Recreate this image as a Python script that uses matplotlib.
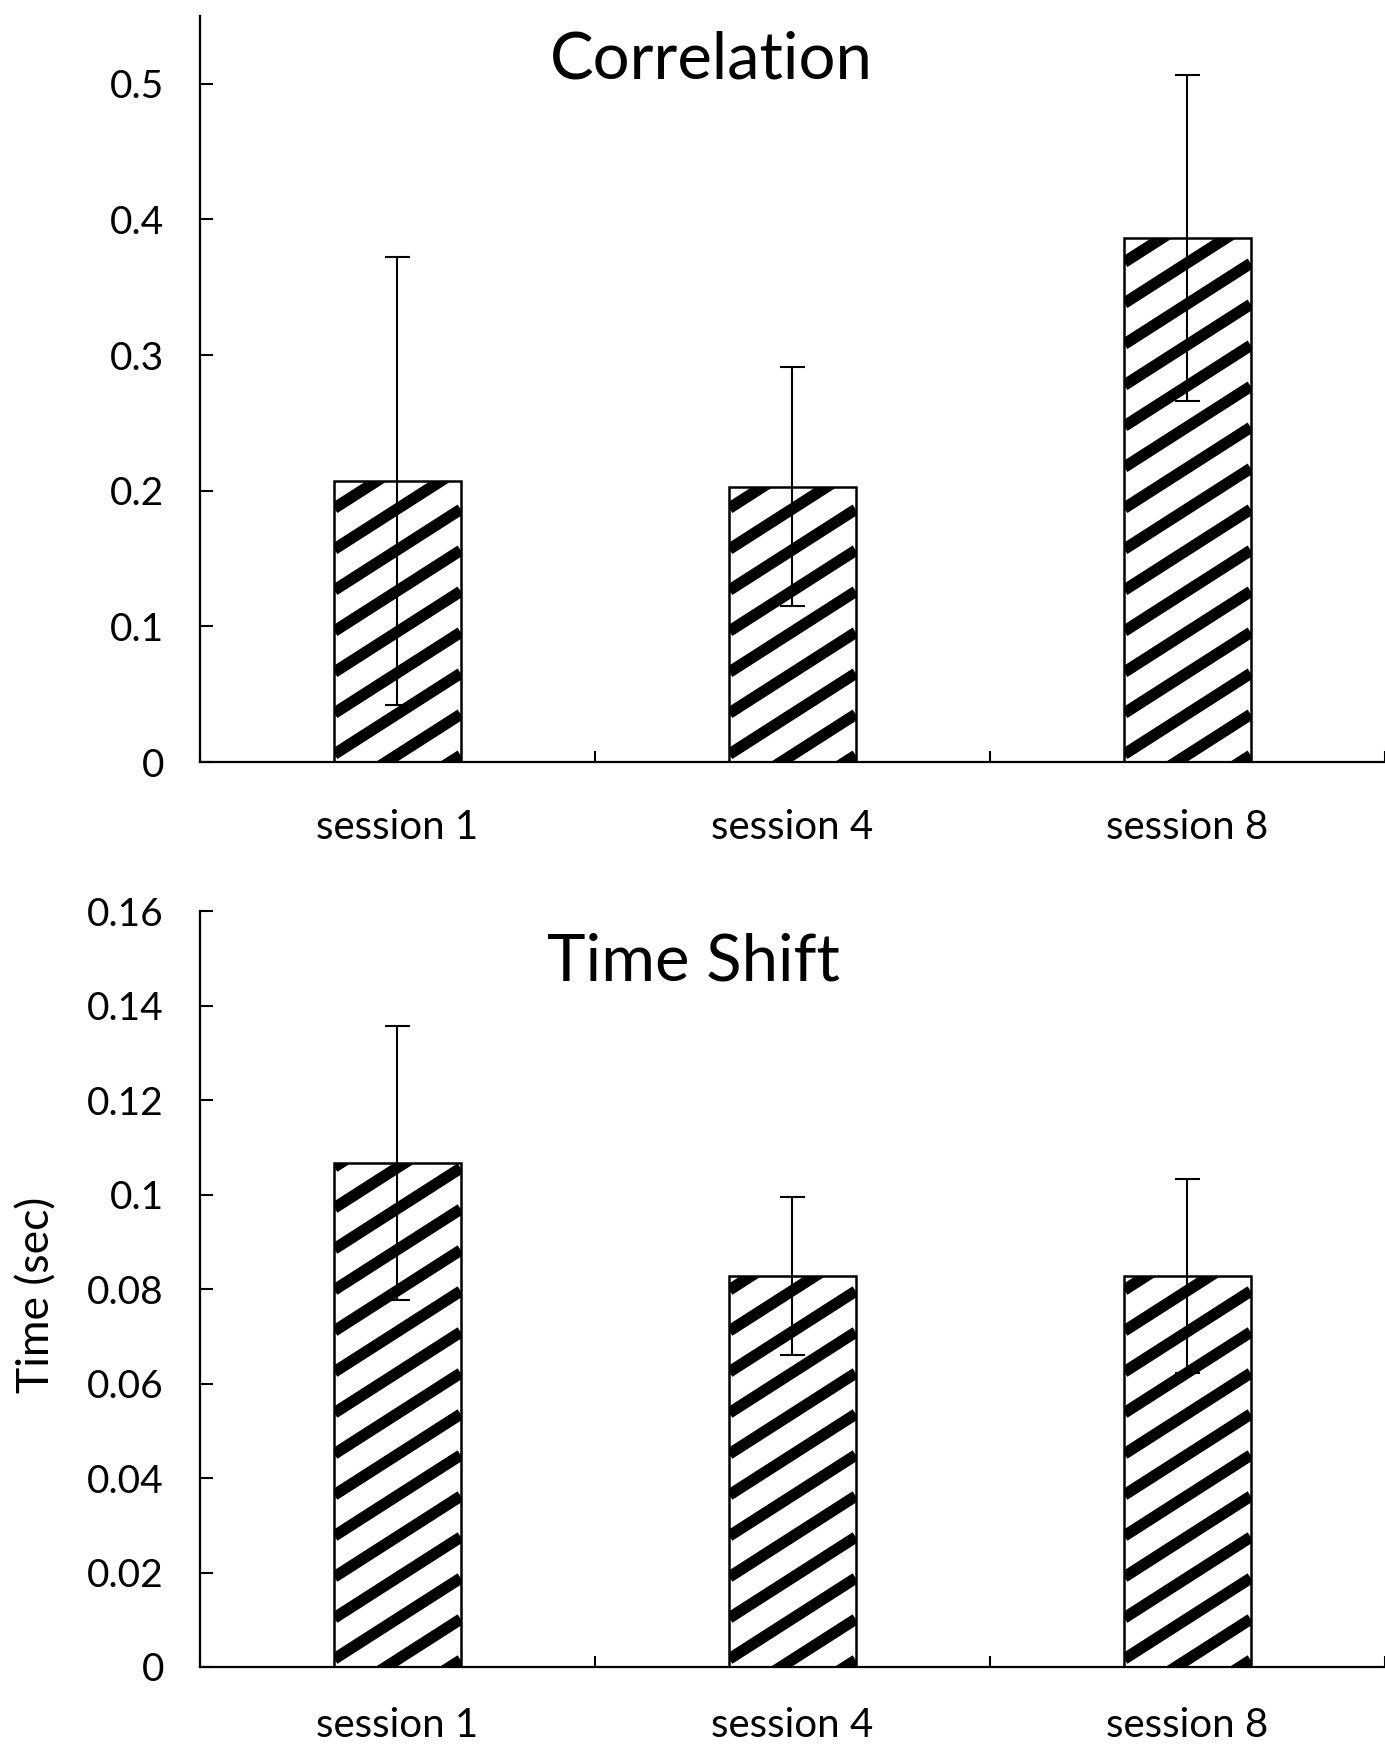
import matplotlib
matplotlib.use("Agg")
import matplotlib.pyplot as plt
import numpy as np

plt.rcParams['font.family'] = ['Lato', 'DejaVu Sans']

# data
sessions = ['session 1', 'session 4', 'session 8']
corr_mean = [0.207, 0.203, 0.386]
corr_err = [0.165, 0.088, 0.120]
shift_mean = [0.1068, 0.0828, 0.0828]
shift_err = [0.0290, 0.0168, 0.0205]

fig = plt.figure(figsize=(13.85, 17.47), dpi=100)

ax1 = fig.add_axes([0.1444, 0.5637, 0.8556, 0.4273])
ax2 = fig.add_axes([0.1444, 0.0458, 0.8556, 0.4325])

x = np.arange(len(sessions))


def stripe(ax, bars, slope=0.64, step=41, lw=8.2):
    # diagonal hatching drawn in pixel space, clipped to each bar
    inv = ax.transData.inverted()
    for b in bars:
        bb = b.get_window_extent()
        w = bb.x1 - bb.x0
        kmin = -int(np.ceil(slope * w / step)) - 1
        kmax = int(np.ceil(bb.height / step)) + 1
        for k in range(kmin, kmax):
            p0 = (bb.x0, bb.y0 + k * step + 8)
            p1 = (bb.x1, bb.y0 + k * step + 8 + slope * w)
            d = inv.transform([p0, p1])
            ln, = ax.plot(d[:, 0], d[:, 1], color='black', lw=lw,
                          solid_capstyle='butt', zorder=1.5)
            ln.set_clip_path(b)


def panel(ax, means, errs, ylim, yticks, ylabels, xpad):
    ax.set_xlim(-0.5, len(means) - 0.5)
    ax.set_ylim(*ylim)
    bars = ax.bar(x, means, width=0.32, color='white', edgecolor='none', zorder=1)
    stripe(ax, bars)
    ax.bar(x, means, width=0.32, fill=False, edgecolor='black', linewidth=1.8, zorder=2)
    ax.errorbar(x, means, yerr=errs, fmt='none', ecolor='black', elinewidth=1.5,
                capsize=9, capthick=1.5, zorder=3)
    for s in ['top', 'right']:
        ax.spines[s].set_visible(False)
    for s in ['left', 'bottom']:
        ax.spines[s].set_linewidth(1.6)
    ax.set_yticks(yticks)
    ax.set_yticklabels(ylabels)
    ax.tick_params(axis='y', direction='in', length=9, width=1.5, pad=26, labelsize=28)
    ax.set_xticks(x)
    ax.set_xticklabels(sessions)
    ax.tick_params(axis='x', which='major', length=0, pad=xpad, labelsize=29)
    ax.set_xticks(np.arange(len(means) + 1) - 0.5, minor=True)
    ax.tick_params(axis='x', which='minor', direction='in', length=8, width=1.5)


panel(ax1, corr_mean, corr_err, (0, 0.55),
      [0, 0.1, 0.2, 0.3, 0.4, 0.5], ['0', '0.1', '0.2', '0.3', '0.4', '0.5'], 34)
panel(ax2, shift_mean, shift_err, (0, 0.16),
      [0, 0.02, 0.04, 0.06, 0.08, 0.10, 0.12, 0.14, 0.16],
      ['0', '0.02', '0.04', '0.06', '0.08', '0.1', '0.12', '0.14', '0.16'], 29)

fig.text(711 / 1385, 1 - 60 / 1747, 'Correlation', fontsize=47, ha='center', va='center')
fig.text(693 / 1385, 1 - 962 / 1747, 'Time Shift', fontsize=47, ha='center', va='center')
fig.text(37 / 1385, 1 - 1295 / 1747, 'Time (sec)', fontsize=32, rotation=90,
         ha='center', va='center')

fig.savefig('out.png', dpi=100, facecolor='white')
